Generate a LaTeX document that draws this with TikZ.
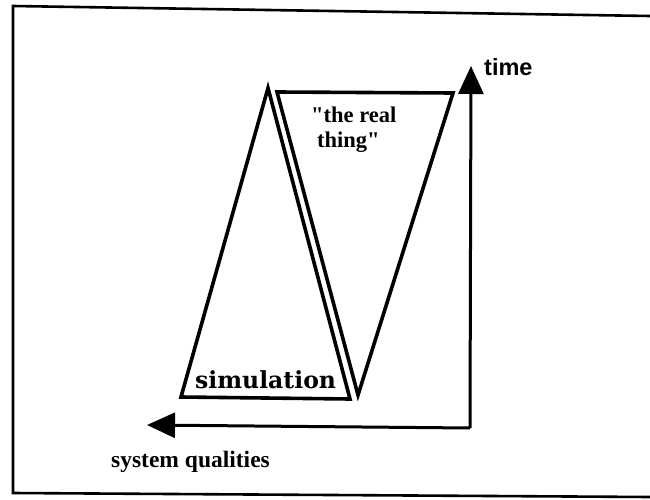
\documentclass[tikz,border=0pt]{standalone}
\usepackage{fontspec}
\setmainfont{Liberation Serif}
\newfontfamily\helv{Liberation Sans}
\newfontfamily\simfont{DejaVu Serif}
\usetikzlibrary{arrows.meta}
\tikzset{
  frameline/.style={line width=2.6pt},
  tri/.style={line width=3.6pt, line join=miter},
  axis/.style={line width=3pt, -{Triangle[length=28pt,width=25pt]}},
  lbl/.style={inner sep=0pt, anchor=base west},
}
\begin{document}
\begin{tikzpicture}[x=1pt,y=-1pt]
\useasboundingbox (0,0) rectangle (650,500);
% frame
\draw[frameline] (650,16) -- (13,6) -- (13,493) -- (650,497);
% simulation triangle
\coordinate (sA) at (268,88);
\coordinate (sL) at (181,397);
\coordinate (sR) at (350,399);
\draw[tri] (sA) -- (sR) -- (sL) -- cycle;
% real thing triangle
\coordinate (rL) at (277,92);
\coordinate (rR) at (453,93);
\coordinate (rB) at (358,395);
\draw[tri] (rL) -- (rR) -- (rB) -- cycle;
% axes
\coordinate (corner) at (470,428);
\coordinate (ttip) at (471,66);
\coordinate (qtip) at (147,425);
\draw[axis] (corner) -- (ttip);
\draw[axis] (corner) -- (qtip);
% labels
\node[lbl] (time) at (484,76) {\helv\bfseries\fontsize{23.5}{28}\selectfont time};
\node[lbl] (sq) at (111,467) {\bfseries\fontsize{23.5}{28}\selectfont system qualities};
\node[lbl] (sim) at (195,388) {\simfont\bfseries\fontsize{23.5}{26}\selectfont simulation};
\node[lbl] (rt1) at (311,122) {\bfseries\fontsize{22.5}{26}\selectfont \textquotedbl the real};
\node[lbl] (rt2) at (317,147) {\bfseries\fontsize{22.5}{26}\selectfont thing\textquotedbl};
\end{tikzpicture}
\end{document}
